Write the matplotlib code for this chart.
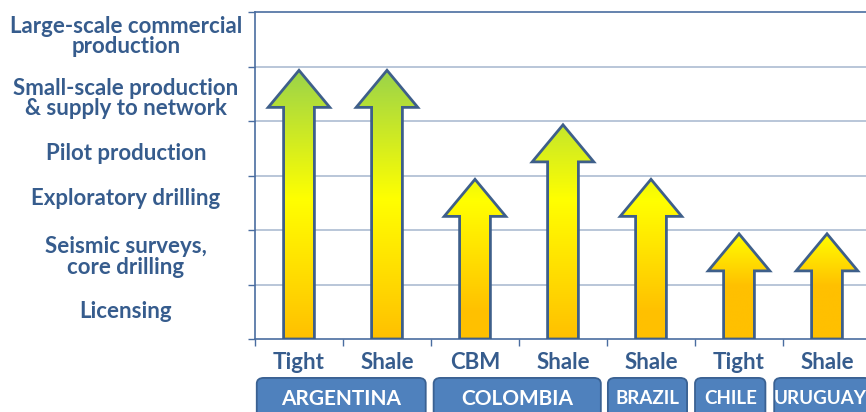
import numpy as np
import matplotlib
matplotlib.use("Agg")
import matplotlib.pyplot as plt
from matplotlib.patches import Polygon, FancyBboxPatch
from matplotlib.transforms import blended_transform_factory

# stages on the y axis (bottom to top)
stages = ["Licensing", "Seismic surveys,\ncore drilling", "Exploratory drilling",
          "Pilot production", "Small-scale production\n& supply to network",
          "Large-scale commercial\nproduction"]
# one arrow per play
plays = ["Tight", "Shale", "CBM", "Shale", "Shale", "Tight", "Shale"]
stage_reached = [5, 5, 3, 4, 3, 2, 2]
# countries and how many plays each covers
countries = ["ARGENTINA", "COLOMBIA", "BRAZIL", "CHILE", "URUGUAY"]
country_counts = [2, 2, 1, 1, 1]

# layout (box spans in category units, font sizes, label nudges)
box_spans = [(0.02, 1.94), (2.03, 3.93), (4.01, 4.91), (5.0, 5.8), (5.9, 7.0)]
box_fonts = [15, 15, 13.5, 13.5, 13.5]
stage_nudge = [0.0, 0.01, 0.07, -0.1, -0.09, 0.05]

text_blue = "#365c8d"
edge_blue = "#3e5f8a"
orange = np.array([255, 192, 0]) / 255
yellow = np.array([255, 255, 0]) / 255
green = np.array([146, 208, 80]) / 255

plt.rcParams["font.family"] = ["Lato", "DejaVu Sans"]
plt.rcParams["font.weight"] = "bold"

fig = plt.figure(figsize=(8.66, 4.12), dpi=100)
ax = fig.add_axes([255 / 866, 73 / 412, 616 / 866, 327 / 412])


def arrow_colors(h, n=200):
    # vertical gradient: orange at the bottom, yellow, then green for tall ones
    v = np.linspace(0, h, n)
    ys = min(h, 2.6)
    flat = max(0.0, 1.0 - (h - 2) * 0.5)
    out = np.zeros((n, 3))
    for i, val in enumerate(v):
        if val <= flat:
            out[i] = orange
        elif val <= ys:
            t = (val - flat) / (ys - flat)
            out[i] = orange + (yellow - orange) * t
        else:
            t = min(1.0, (val - ys) / (5.2 - ys))
            out[i] = yellow + (green - yellow) * t
    return out


sw, hw, hh = 0.35, 0.70, 0.68
for i, h in enumerate(stage_reached):
    x = i + 0.5
    top = h - 0.07
    pts = [(x - sw / 2, 0), (x + sw / 2, 0), (x + sw / 2, top - hh),
           (x + hw / 2, top - hh), (x, top), (x - hw / 2, top - hh),
           (x - sw / 2, top - hh)]
    arrow = Polygon(pts, closed=True, facecolor="none", edgecolor=edge_blue,
                    linewidth=2.0, zorder=4, joinstyle="miter")
    ax.add_patch(arrow)
    img = arrow_colors(h)[:, None, :]
    im = ax.imshow(img, extent=[x - 0.5, x + 0.5, 0, top], origin="lower",
                   aspect="auto", zorder=3, interpolation="bilinear")
    im.set_clip_path(arrow)

ax.set_xlim(0, 7)
ax.set_ylim(0, 6)
ax.set_yticks(range(7))
ax.set_yticklabels([])
ax.set_xticks(range(8))
ax.set_xticklabels([])
ax.tick_params(axis="both", direction="out", length=5, width=1, color="#4a6da0")
for y in range(1, 6):
    ax.axhline(y, color="#b3c1d6", linewidth=1.3, zorder=1)
ax.spines["right"].set_visible(False)
for s in ["left", "bottom", "top"]:
    ax.spines[s].set_color("#4a6da0")
    ax.spines[s].set_linewidth(1.2)

# stage labels left of the axis
trans_y = blended_transform_factory(fig.transFigure, ax.transData)
for i, lab in enumerate(stages):
    ax.text(126 / 866, i + 0.5 + stage_nudge[i], lab, transform=trans_y,
            ha="center", va="center", fontsize=16, color=text_blue,
            fontweight="bold", linespacing=0.98)

# play names under each arrow
trans_x = blended_transform_factory(ax.transData, ax.transAxes)
for i, lab in enumerate(plays):
    ax.text(i + 0.5, -0.072, lab, transform=trans_x, ha="center", va="center",
            fontsize=16, color=text_blue, fontweight="bold", clip_on=False)

# country boxes
for name, (x0, x1), fs in zip(countries, box_spans, box_fonts):
    box = FancyBboxPatch((x0, -0.30), x1 - x0, 0.181, transform=trans_x,
                         boxstyle="round,pad=0,rounding_size=0.08",
                         mutation_aspect=0.22, facecolor="#4f81bd",
                         edgecolor="#3a6192", linewidth=1.3, clip_on=False)
    ax.add_patch(box)
    ax.text((x0 + x1) / 2 if name != "URUGUAY" else x0 + 0.52, -0.182, name,
            transform=trans_x, ha="center", va="center", fontsize=fs,
            color="white", fontweight="bold", clip_on=False)

fig.savefig("out.png", dpi=100)
